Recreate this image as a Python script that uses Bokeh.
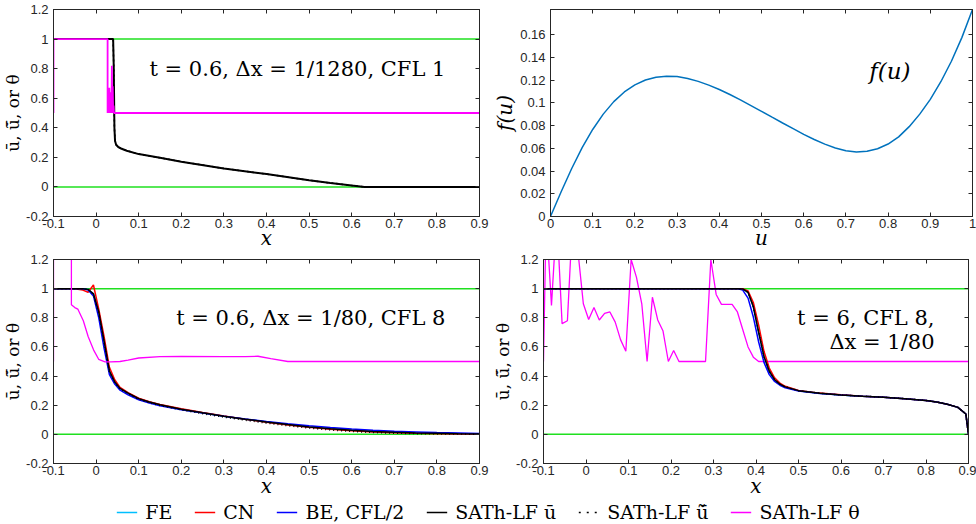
from bokeh.plotting import figure
from bokeh.models import FixedTicker, LinearAxis, Range1d, Legend, LegendItem, Label
from bokeh.layouts import column, row
from bokeh.embed import file_html
from bokeh.resources import INLINE

# ---------------- data ----------------
x_ticks = [-0.1, 0.0, 0.1, 0.2, 0.3, 0.4, 0.5, 0.6, 0.7, 0.8, 0.9]
x_tick_labels = ["-0.1", "0", "0.1", "0.2", "0.3", "0.4", "0.5", "0.6", "0.7", "0.8", "0.9"]
y_ticks = [-0.2, 0.0, 0.2, 0.4, 0.6, 0.8, 1.0, 1.2]
y_tick_labels = ["-0.2", "0", "0.2", "0.4", "0.6", "0.8", "1", "1.2"]
u_ticks = [0.0, 0.1, 0.2, 0.3, 0.4, 0.5, 0.6, 0.7, 0.8, 0.9, 1.0]
u_tick_labels = ["0", "0.1", "0.2", "0.3", "0.4", "0.5", "0.6", "0.7", "0.8", "0.9", "1"]
f_ticks = [0.0, 0.02, 0.04, 0.06, 0.08, 0.1, 0.12, 0.14, 0.16]
f_tick_labels = ["0", "0.02", "0.04", "0.06", "0.08", "0.1", "0.12", "0.14", "0.16"]

bounds = [0.0, 1.0]

# top-left: t = 0.6, dx = 1/1280, CFL 1
tl_x = [-0.1, 0.040, 0.0415, 0.043, 0.0445, 0.047, 0.052, 0.06, 0.072, 0.1, 0.15, 0.2, 0.3, 0.4, 0.5, 0.55, 0.6, 0.63, 0.9]
tl_ubar = [1.0, 1.0, 0.8, 0.4, 0.31, 0.285, 0.27, 0.258, 0.245, 0.222, 0.197, 0.171, 0.125, 0.087, 0.045, 0.027, 0.01, 0.0, 0.0]
tl_theta_x = [-0.1, -0.1, 0.027, 0.027, 0.029, 0.030, 0.031, 0.032, 0.033, 0.034, 0.035, 0.036, 0.037, 0.038, 0.039, 0.040, 0.041, 0.042, 0.9]
tl_theta = [0.5, 1.0, 1.0, 0.5, 0.62, 0.5, 0.67, 0.5, 0.64, 0.5, 0.6, 0.5, 0.82, 0.5, 0.68, 0.5, 0.55, 0.5, 0.5]

# top-right: flux f(u)
fu_u = [0.0, 0.025, 0.05, 0.075, 0.1, 0.125, 0.15, 0.175, 0.2, 0.225, 0.25, 0.275, 0.3, 0.325, 0.35, 0.375,
        0.4, 0.425, 0.45, 0.475, 0.5, 0.525, 0.55, 0.575, 0.6, 0.625, 0.65, 0.675, 0.7, 0.725, 0.75, 0.775,
        0.8, 0.825, 0.85, 0.875, 0.9, 0.925, 0.95, 0.975, 1.0]
fu_f = [0.0, 0.0215, 0.042, 0.0605, 0.0765, 0.0900, 0.1010, 0.1095, 0.1157, 0.1200, 0.1225, 0.1234, 0.1230,
        0.1214, 0.1188, 0.1155, 0.1117, 0.1073, 0.1025, 0.0975, 0.0925, 0.0873, 0.0822, 0.0772, 0.0722, 0.0677,
        0.0636, 0.0602, 0.0578, 0.0567, 0.0573, 0.0596, 0.0637, 0.0700, 0.0790, 0.0900, 0.1030, 0.1185, 0.1365,
        0.1575, 0.182]

# bottom-left: t = 0.6, dx = 1/80, CFL 8
bl_x = [-0.1, -0.05, -0.03125, -0.01875, -0.00625, 0.00625, 0.01875, 0.03125, 0.04375, 0.05625, 0.075, 0.1,
        0.125, 0.15, 0.2, 0.25, 0.3, 0.35, 0.4, 0.45, 0.5, 0.55, 0.6, 0.65, 0.7, 0.75, 0.8, 0.85, 0.9]
bl_fe = [1, 1, 1, 0.995, 0.965, 0.84, 0.64, 0.435, 0.36, 0.315, 0.283, 0.245, 0.222, 0.203, 0.173, 0.148,
         0.125, 0.104, 0.085, 0.067, 0.051, 0.038, 0.028, 0.020, 0.014, 0.010, 0.007, 0.004, 0.003]
bl_cn = [1, 1, 0.99, 0.975, 1.025, 0.86, 0.67, 0.46, 0.375, 0.322, 0.287, 0.248, 0.224, 0.205, 0.175, 0.150,
         0.126, 0.104, 0.083, 0.065, 0.048, 0.035, 0.025, 0.017, 0.011, 0.007, 0.005, 0.003, 0.002]
bl_be = [1, 1, 0.999, 0.99, 0.95, 0.80, 0.59, 0.41, 0.345, 0.303, 0.272, 0.237, 0.215, 0.197, 0.169, 0.146,
         0.125, 0.106, 0.089, 0.073, 0.059, 0.047, 0.037, 0.029, 0.022, 0.017, 0.012, 0.009, 0.006]
bl_ubar = [1, 1, 1, 0.995, 0.965, 0.84, 0.64, 0.435, 0.36, 0.315, 0.283, 0.245, 0.222, 0.203, 0.173, 0.148,
           0.125, 0.104, 0.085, 0.067, 0.051, 0.038, 0.028, 0.020, 0.014, 0.010, 0.007, 0.004, 0.003]
bl_utilde = [1, 1, 1, 0.995, 0.96, 0.83, 0.63, 0.43, 0.355, 0.31, 0.278, 0.24, 0.217, 0.198, 0.168, 0.142,
             0.118, 0.097, 0.077, 0.059, 0.043, 0.030, 0.020, 0.013, 0.008, 0.005, 0.003, 0.002, 0.001]
bl_theta_x = [-0.1, -0.1, -0.058, -0.058, -0.05, -0.043, -0.03, -0.0185, -0.006, 0.006, 0.021, 0.035, 0.056,
              0.075, 0.1, 0.15, 0.2, 0.3, 0.35, 0.38, 0.41, 0.45, 0.9]
bl_theta = [0.5, 1.5, 1.5, 0.889, 0.87, 0.86, 0.78, 0.67, 0.58, 0.515, 0.498, 0.497, 0.5, 0.51, 0.524, 0.533,
            0.535, 0.534, 0.533, 0.536, 0.52, 0.5, 0.5]

# bottom-right: t = 6, CFL 8, dx = 1/80
br_x = [-0.1, 0.3, 0.35625, 0.36875, 0.38125, 0.39375, 0.40625, 0.41875, 0.43125, 0.44375, 0.45625, 0.46875,
        0.5, 0.55, 0.6, 0.65, 0.7, 0.75, 0.8, 0.825, 0.85, 0.875, 0.89375, 0.9]
br_fe = [1, 1, 1, 0.998, 0.975, 0.875, 0.70, 0.535, 0.433, 0.375, 0.345, 0.326, 0.30, 0.282, 0.27, 0.262,
         0.255, 0.245, 0.232, 0.222, 0.207, 0.185, 0.14, 0.0]
br_cn = [1, 1, 1, 0.999, 0.985, 0.905, 0.75, 0.57, 0.455, 0.388, 0.352, 0.33, 0.301, 0.283, 0.271, 0.262, 0.255,
         0.245, 0.232, 0.222, 0.207, 0.185, 0.14, 0.0]
br_be = [1, 1, 1, 0.99, 0.935, 0.805, 0.634, 0.494, 0.41, 0.363, 0.337, 0.32, 0.298, 0.281, 0.27, 0.262, 0.255,
         0.245, 0.232, 0.222, 0.207, 0.185, 0.14, 0.0]
br_ubar = [1, 1, 1, 0.998, 0.975, 0.875, 0.70, 0.535, 0.433, 0.375, 0.345, 0.326, 0.30, 0.282, 0.27, 0.262,
           0.255, 0.245, 0.232, 0.222, 0.207, 0.185, 0.14, 0.0]
br_utilde = [1, 1, 1, 0.998, 0.975, 0.875, 0.70, 0.535, 0.433, 0.375, 0.345, 0.326, 0.30, 0.282, 0.27, 0.262,
             0.255, 0.245, 0.232, 0.222, 0.207, 0.185, 0.14, 0.0]
br_theta_x = [-0.1, -0.09375, -0.08125, -0.06875, -0.05625, -0.04375, -0.03125, -0.01875, -0.00625, 0.00625,
              0.01875, 0.03125, 0.04375, 0.05625, 0.06875, 0.08125, 0.09375, 0.10625, 0.11875, 0.13125, 0.14375,
              0.15625, 0.16875, 0.18125, 0.19375, 0.20625, 0.21875, 0.28125, 0.29375, 0.30625, 0.31875, 0.34375,
              0.35625, 0.36875, 0.38125, 0.39375, 0.40625, 0.9]
br_theta = [0.5, 1.5, 0.885, 1.5, 0.76, 0.78, 1.5, 1.25, 0.896, 0.788, 0.87, 0.785, 0.83, 0.84, 0.77, 0.65, 0.57,
            1.2, 1.077, 0.896, 0.5, 0.941, 0.785, 0.709, 0.5, 0.576, 0.5, 0.5, 1.2, 0.96, 0.892, 0.892, 0.84, 0.72,
            0.6, 0.53, 0.5, 0.5]

UBAR = "u\u0304"
UTT = "u\u0303\u0304"
legend_labels = ["FE", "CN", "BE, CFL/2", "SATh-LF " + UBAR, "SATh-LF " + UTT, "SATh-LF \u03b8"]

# ---------------- styles ----------------
SANS = "Liberation Sans"
SERIF = "DejaVu Serif"
AX = "#262626"
C_FE = "#00bfff"
C_CN = "#ff0000"
C_BE = "#0000ff"
C_U = "#000000"
C_TH = "#ff00ff"
C_BD = "#1fe01f"
C_F = "#0072bd"
YLAB = UBAR + ", " + UTT + ", or \u03b8"


def make_fig(width, height, left, right, top, bottom, xr, yr):
    p = figure(width=width, height=height, x_range=Range1d(*xr), y_range=Range1d(*yr),
               toolbar_location=None, output_backend="svg",
               min_border_left=left, min_border_right=right, min_border_top=top, min_border_bottom=bottom)
    p.grid.visible = False
    p.outline_line_color = AX
    p.outline_line_width = 1
    p.outline_line_alpha = 1
    return p


def style_axis(ax, ticks, labels, is_x, label_text, italic=True, size="20px", standoff=0):
    ax.ticker = FixedTicker(ticks=ticks)
    ax.major_label_overrides = {t: l for t, l in zip(ticks, labels)}
    ax.major_label_text_font = SANS
    ax.major_label_text_font_size = "13px"
    ax.major_label_text_color = AX
    ax.major_tick_in = 4
    ax.major_tick_out = 0
    ax.minor_tick_line_color = None
    ax.axis_line_color = AX
    ax.major_tick_line_color = AX
    ax.major_label_standoff = 2 if is_x else 5
    ax.axis_label = label_text
    ax.axis_label_text_font = SERIF
    ax.axis_label_text_font_style = "italic" if italic else "normal"
    ax.axis_label_text_font_size = size
    ax.axis_label_text_color = "black"
    ax.axis_label_standoff = standoff


def mirror_axes(p, xt, yt):
    for loc, ticks in (("above", xt), ("right", yt)):
        ax = LinearAxis(ticker=FixedTicker(ticks=ticks))
        ax.major_label_text_font_size = "1px"
        ax.major_label_text_alpha = 0
        ax.major_label_text_color = None
        ax.major_label_standoff = 0
        ax.major_tick_in = 4
        ax.major_tick_out = 0
        ax.minor_tick_line_color = None
        ax.axis_line_color = AX
        ax.major_tick_line_color = AX
        p.add_layout(ax, loc)


def u_panel(width, height, left, right, top, bottom, xstand):
    p = make_fig(width, height, left, right, top, bottom, (-0.1, 0.9), (-0.2, 1.2))
    style_axis(p.xaxis[0], x_ticks, x_tick_labels, True, "x", standoff=xstand)
    style_axis(p.yaxis[0], y_ticks, y_tick_labels, False, YLAB, italic=False, size="17px")
    mirror_axes(p, x_ticks, y_ticks)
    for b in bounds:
        p.line(x=[x_ticks[0], x_ticks[-1]], y=[b, b], line_color=C_BD, line_width=1.5)
    return p


def add_label(p, x, y, text, size="21px", italic=False):
    p.add_layout(Label(x=x, y=y, text=text, text_align="right", text_baseline="middle",
                       text_font=SERIF, text_font_size=size,
                       text_font_style="italic" if italic else "normal", text_color="black"))


# top-left
p1 = u_panel(490, 252, 53, 11, 9, 36, -5)
p1.line(tl_x, tl_ubar, line_color=C_U, line_width=2)
p1.line(tl_x, tl_ubar, line_color=C_U, line_width=1.5, line_dash="2 3")
p1.line(tl_theta_x, tl_theta, line_color=C_TH, line_width=1.8)
add_label(p1, 0.82, 0.8, "t = 0.6, \u0394x = 1/1280, CFL 1")

# top-right
p2 = make_fig(486, 252, 58, 4, 9, 36, (0, 1), (0, 0.182))
style_axis(p2.xaxis[0], u_ticks, u_tick_labels, True, "u", standoff=-5)
style_axis(p2.yaxis[0], f_ticks, f_tick_labels, False, "f(u)")
mirror_axes(p2, u_ticks, f_ticks)
p2.line(fu_u, fu_f, line_color=C_F, line_width=1.5)
add_label(p2, 0.853, 0.128, "f(u)", size="23px", italic=True)

# bottom-left
p3 = u_panel(490, 248, 53, 11, 7, 35, -4)
p3.line(bl_x, bl_fe, line_color=C_FE, line_width=1.5)
p3.line(bl_x, bl_cn, line_color=C_CN, line_width=1.5)
p3.line(bl_x, bl_be, line_color=C_BE, line_width=1.5)
p3.line(bl_x, bl_ubar, line_color=C_U, line_width=1.5)
p3.line(bl_x, bl_utilde, line_color=C_U, line_width=1.5, line_dash="1 3")
p3.line(bl_theta_x, bl_theta, line_color=C_TH, line_width=1.3)
add_label(p3, 0.82, 0.8, "t = 0.6, \u0394x = 1/80, CFL 8")

# bottom-right
p4 = u_panel(486, 248, 52, 8, 7, 35, -4)
p4.line(br_theta_x, br_theta, line_color=C_TH, line_width=1.3)
p4.line(br_x, br_fe, line_color=C_FE, line_width=1.5)
p4.line(br_x, br_cn, line_color=C_CN, line_width=1.5)
p4.line(br_x, br_be, line_color=C_BE, line_width=1.5)
p4.line(br_x, br_ubar, line_color=C_U, line_width=1.5)
p4.line(br_x, br_utilde, line_color=C_U, line_width=1.5, line_dash="1 3")
add_label(p4, 0.82, 0.8, "t = 6, CFL 8,")
add_label(p4, 0.82, 0.635, "\u0394x = 1/80")

# legend strip (its lines use the series data but sit outside the visible y range)
leg = figure(width=976, height=24, toolbar_location=None, output_backend="svg",
             x_range=Range1d(-0.1, 0.9), y_range=Range1d(10, 11), min_border=0)
leg.outline_line_color = None
leg.axis.visible = False
leg.grid.visible = False
series = [(bl_fe, C_FE, None), (bl_cn, C_CN, None), (bl_be, C_BE, None),
          (bl_ubar, C_U, None), (bl_utilde, C_U, "2 6"), (bl_theta, C_TH, None)]
items = []
for lab, (ys, c, d) in zip(legend_labels, series):
    kw = dict(line_color=c, line_width=1.5)
    if d:
        kw["line_dash"] = d
    xs = bl_theta_x if ys is bl_theta else bl_x
    r = leg.line(x=xs, y=ys, **kw)
    items.append(LegendItem(label=lab, renderers=[r]))
legend = Legend(items=items, orientation="horizontal", location="center",
                border_line_color=None, background_fill_alpha=0,
                label_text_font=SERIF, label_text_font_size="19px", label_text_color="black",
                glyph_width=21, glyph_height=14, label_standoff=8, spacing=22, padding=0, margin=0)
leg.add_layout(legend, "center")

layout = column(row(p1, p2), row(p3, p4), leg)
open("out.html", "w").write(file_html(layout, INLINE))
